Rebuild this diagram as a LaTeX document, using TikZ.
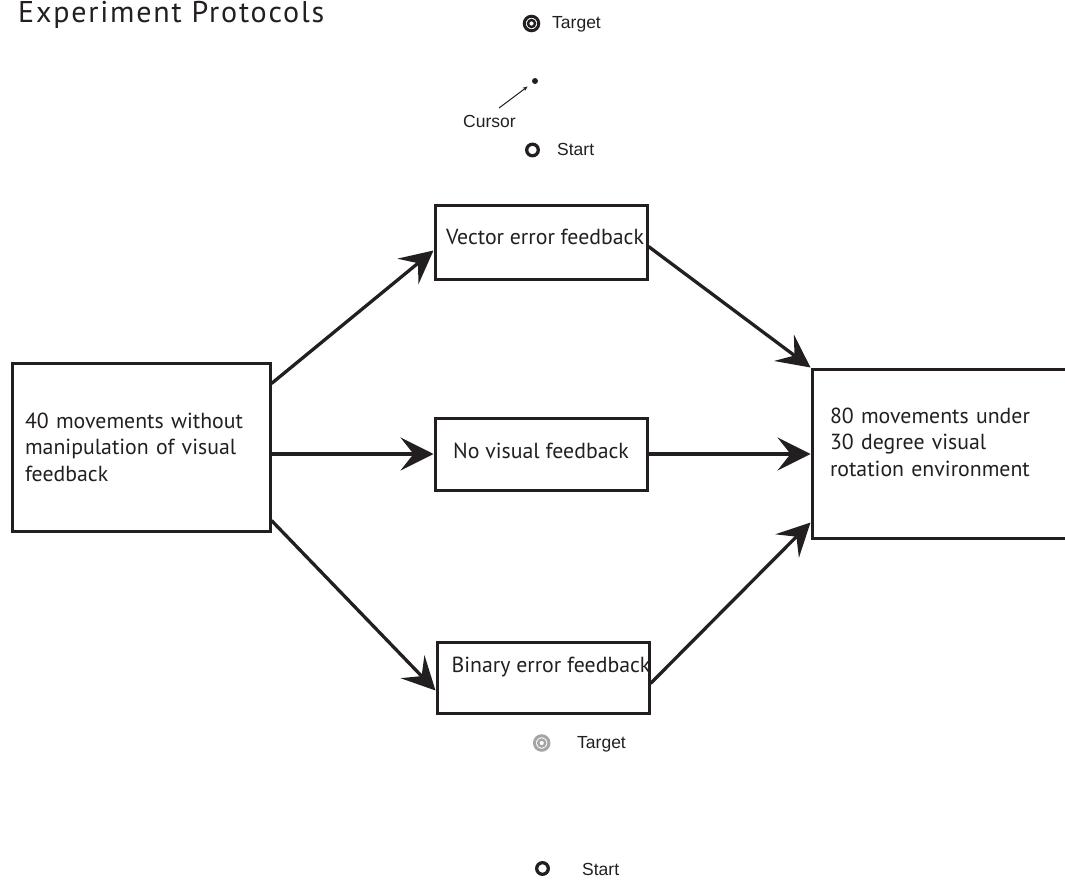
\documentclass[tikz,border=0pt]{standalone}
\usepackage{fontspec}
\setmainfont{PT Sans}
\newfontfamily\titlefont[LetterSpace=6]{PT Sans}
\newfontfamily\labelfont{Liberation Sans}
\usetikzlibrary{arrows.meta,calc}
\definecolor{ink}{RGB}{35,31,32}
\definecolor{faded}{RGB}{165,165,165}
\begin{document}
\begin{tikzpicture}[x=1pt,y=-1pt,
  box/.style={draw=ink, line width=3pt, rectangle, inner sep=0pt, text=ink,
    font=\fontsize{21.8}{26.5}\selectfont},
  flow/.style={draw=ink, line width=3.3pt,
    -{Stealth[length=33pt,width=33pt,inset=13pt]}},
  lbl/.style={font=\labelfont\fontsize{17.5}{20}\selectfont, text=ink, inner sep=0pt},
  ring/.style={circle, draw=ink, inner sep=0pt},
  ptr/.style={draw=ink, line width=1pt, -{Stealth[length=5pt,width=4pt]}}
]
\useasboundingbox (0,0) rectangle (1065,882);

% title
\node[anchor=base west, inner sep=0pt, text=ink, font=\titlefont\fontsize{30}{34}\selectfont]
  (title) at (18,23) {Experiment Protocols};

% legend: cursor feedback display
\node[ring, line width=3pt, minimum size=14.5pt] (tgtA) at (531.5,23.5) {};
\node[ring, line width=2.4pt, minimum size=7pt] (tgtAin) at (tgtA) {};
\node[lbl, anchor=base west] (tgtAlbl) at (552,28.5) {Target};
\node[circle, fill=ink, inner sep=0pt, minimum size=6pt] (dot) at (535,81) {};
\node[lbl, anchor=base west] (curlbl) at (463,128) {Cursor};
\coordinate (ptrstart) at (499,108);
\draw[ptr, shorten >=6pt] (ptrstart) -- (dot);
\node[ring, line width=3.3pt, minimum size=11.6pt] (stA) at (532.5,150) {};
\node[lbl, anchor=base west] (stAlbl) at (557,156) {Start};

% flow boxes
\node[box, minimum width=258pt, minimum height=168pt, align=left, text width=232pt]
  (lft) at (141,447) {40 movements without\\manipulation of visual\\feedback};
\node[box, minimum width=212pt, minimum height=74pt, text height=14pt, text depth=10pt]
  (vec) at (541,243) {\hspace*{4pt}Vector error feedback\hspace*{-4pt}};
\node[box, minimum width=212pt, minimum height=72pt, text height=14pt, text depth=6pt]
  (nov) at (541,454) {No visual feedback};
\node[box, minimum width=212pt, minimum height=71pt, text height=14pt, text depth=25pt]
  (bin) at (543,677.5) {\hspace*{8pt}Binary error feedback\hspace*{-8pt}};
\node[box, minimum width=268pt, minimum height=169pt, align=left, text width=232pt,
  text height=14pt, text depth=75pt]
  (rgt) at (946,453.5) {80 movements under\\30 degree visual\\rotation environment};

% arrows into the three feedback conditions
\draw[flow] ([yshift=-22pt]lft.north east) -- ([yshift=-46pt]vec.north west);
\draw[flow] (nov.west -| lft.east) -- (nov.west);
\draw[flow] ([yshift=12pt]lft.south east) -- ([yshift=24pt]bin.south west);
% arrows into the rotation block
\draw[flow] ([yshift=-42pt]vec.north east) -- (rgt.north west);
\draw[flow] (nov.east) -- (nov.east -| rgt.west);
\draw[flow] ([yshift=31pt]bin.south east) -- ([yshift=17pt]rgt.south west);

% legend: binary feedback display
\node[ring, draw=faded, line width=3pt, minimum size=14.5pt] (tgtB) at (541.7,743) {};
\node[ring, draw=faded, line width=2.4pt, minimum size=7pt] (tgtBin) at (tgtB) {};
\node[lbl, anchor=base west] (tgtBlbl) at (577,748) {Target};
\node[ring, line width=3.3pt, minimum size=11.6pt] (stB) at (542.5,868.5) {};
\node[lbl, anchor=base west] (stBlbl) at (582,875) {Start};
\end{tikzpicture}
\end{document}
